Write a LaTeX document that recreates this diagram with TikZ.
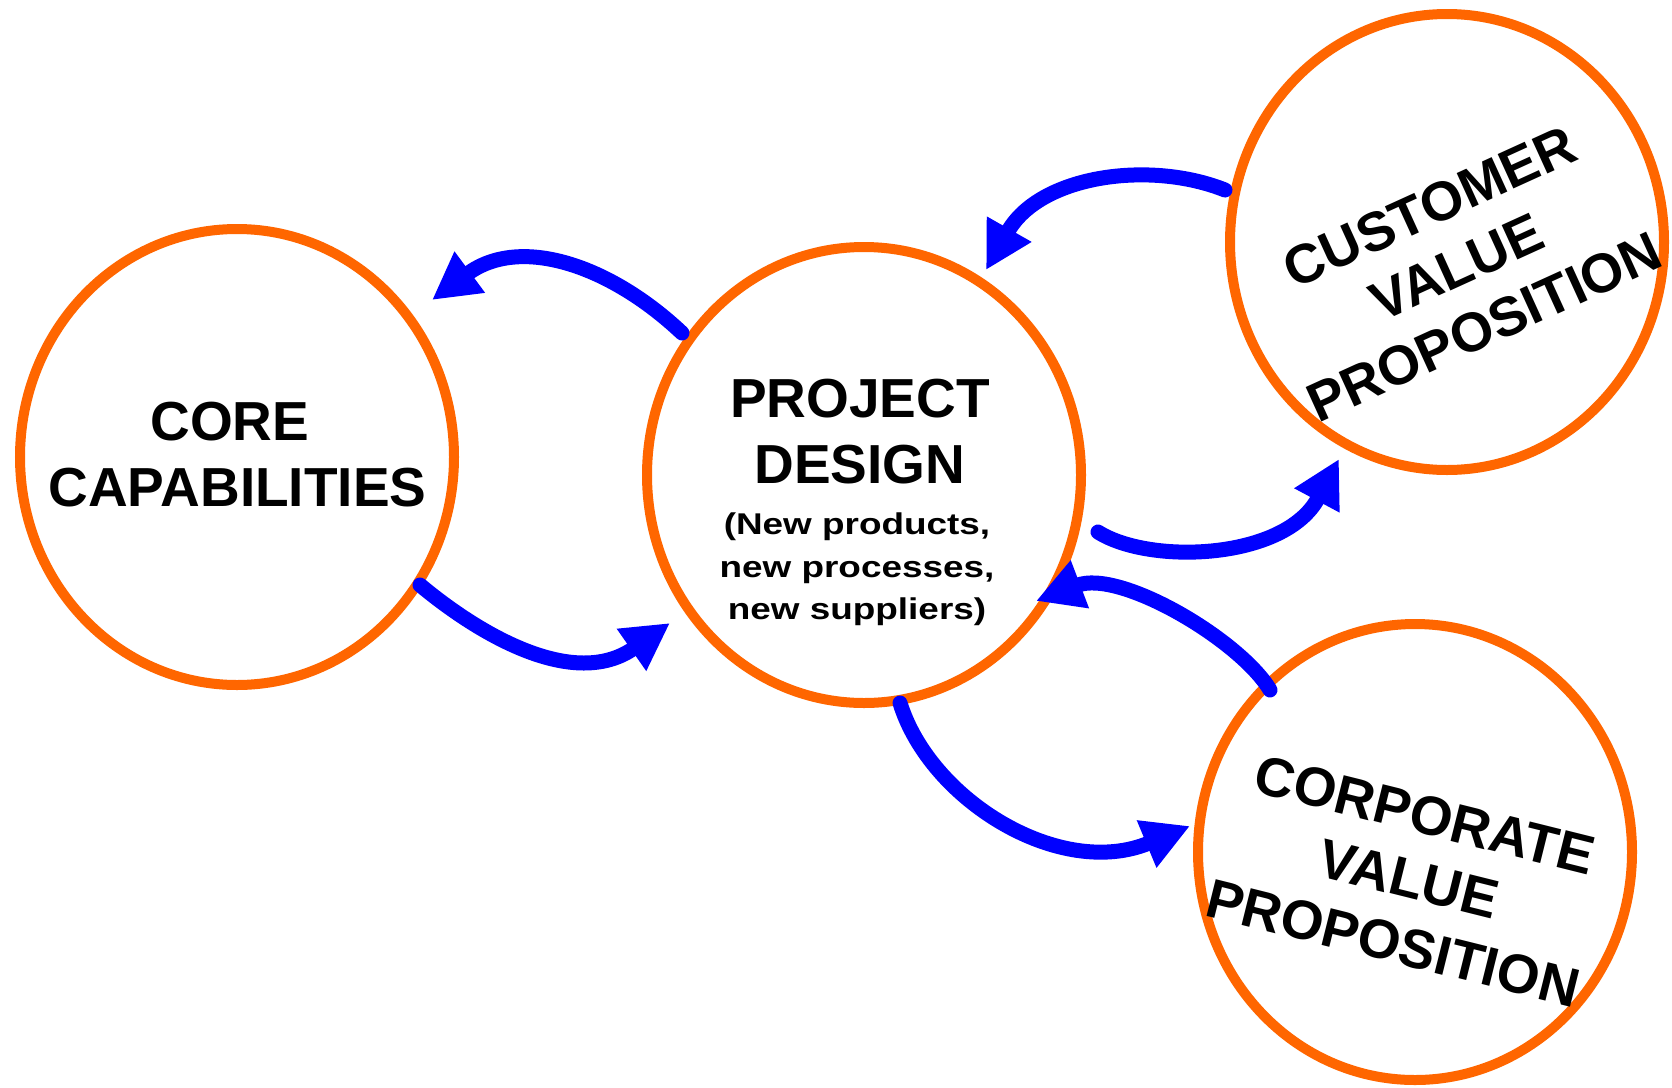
\documentclass[tikz,border=0pt]{standalone}
\usepackage{fontspec}
\setmainfont{Liberation Sans}
\newfontfamily\subfont[FakeStretch=1.23]{Liberation Sans}
\usetikzlibrary{shapes.geometric,arrows.meta,calc}
\definecolor{ringorange}{RGB}{255,102,0}
\definecolor{flowblue}{RGB}{0,0,255}
\begin{document}
\begin{tikzpicture}[x=1pt,y=-1pt,
  ring/.style={ellipse, draw=ringorange, line width=10pt, minimum width=434pt, minimum height=456pt, inner sep=0pt, outer sep=0pt},
  flow/.style={draw=flowblue, line width=15pt, line cap=round, -{Triangle[length=47pt,width=48pt]}},
  ringtext/.style={align=center, inner sep=0pt, font=\bfseries\fontsize{55}{66}\selectfont},
  subtext/.style={align=center, inner sep=0pt, font=\subfont\bfseries\fontsize{30}{42.5}\selectfont}]
\useasboundingbox (0,0) rectangle (1672,1087);
\fill[white] (0,0) rectangle (1672,1087);

\node[ring] (core) at (237,457) {};
\node[ring] (proj) at (864,475) {};
\node[ring] (cust) at (1447,242) {};
\node[ring] (corp) at (1415,852) {};

\node[ringtext] (coretext) at (237.5,455) {CORE\hspace*{0.28em}\\CAPABILITIES};
\node[ringtext] (projtitle) at (860,432) {PROJECT\\DESIGN};
\node[subtext] (projsub) at (857,569.5) {(New products,\\new processes,\\new suppliers)};
\node[ringtext, rotate=24.5] (custtext) at (1457,267) {CUSTOMER\\VALUE\\PROPOSITION};
\node[ringtext, rotate=-14] (corptext) at (1409,879) {CORPORATE\\VALUE\\PROPOSITION};

\draw[flow] ([shift={(-182,-142)}]proj.center) .. controls +(-72,-68) and +(88,-65) .. ([shift={(195,-157)}]core.center);
\draw[flow] ([shift={(183,128)}]core.center) .. controls +(60,50) and +(-96,67) .. ([shift={(-194,148)}]proj.center);
\draw[flow] ([shift={(-222,-52)}]cust.center) .. controls +(-75,-30) and +(54,-95) .. ([shift={(122,-205)}]proj.center);
\draw[flow] ([shift={(234,57)}]proj.center) .. controls +(52,33) and +(-54,101) .. ([shift={(-108,217)}]cust.center);
\draw[flow] ([shift={(-145,-162)}]corp.center) .. controls +(-30,-50) and +(84,-32) .. ([shift={(172,126)}]proj.center);
\draw[flow] ([shift={(36,228)}]proj.center) .. controls +(30,97) and +(-130,54) .. ([shift={(-225,-26)}]corp.center);
\end{tikzpicture}
\end{document}
